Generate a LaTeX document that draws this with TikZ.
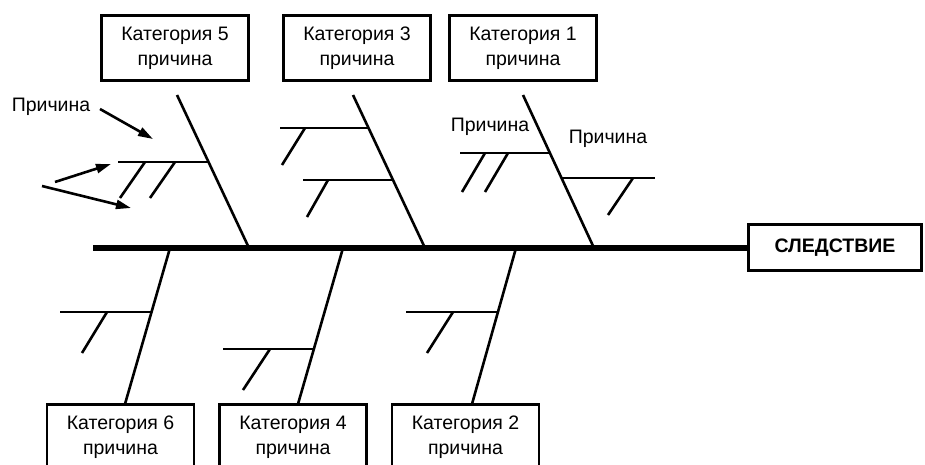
\documentclass[tikz,border=0pt]{standalone}
\usepackage{fontspec}
\setmainfont{Liberation Sans}
\usetikzlibrary{arrows.meta}
\begin{document}
\begin{tikzpicture}[x=1pt,y=-1pt,
  catbox/.style={draw, line width=2.8pt, minimum width=147pt, minimum height=65pt, inner sep=0pt, align=center, font=\fontsize{19.5}{25}\selectfont},
  effbox/.style={draw, line width=2.8pt, minimum width=173pt, minimum height=46pt, inner sep=0pt, font=\fontsize{19.5}{22}\selectfont\bfseries},
  bone/.style={line width=2.6pt},
  spine/.style={line width=5.5pt},
  lbl/.style={font=\fontsize{19.5}{22}\selectfont, inner sep=0pt},
  arr/.style={line width=2.6pt, -{Triangle[length=15pt,width=9pt]}}]
\clip (0,0) rectangle (925,464);
\fill[white] (0,0) rectangle (925,464);
% boxes
\node[catbox] (c5) at (175,48) {Категория 5\\причина};
\node[catbox] (c3) at (357,48) {Категория 3\\причина};
\node[catbox] (c1) at (523,48) {Категория 1\\причина};
\node[catbox] (c6) at (120.5,437) {Категория 6\\причина};
\node[catbox] (c4) at (293,437) {Категория 4\\причина};
\node[catbox] (c2) at (465.5,437) {Категория 2\\причина};
\node[effbox] (eff) at (835,247.5) {СЛЕДСТВИЕ};
% spine
\coordinate (tail) at (93,248);
\draw[spine] (tail) -- (tail -| eff.west);
% top bone 5
\coordinate (b5a) at (177,95); \coordinate (b5b) at (249,248);
\draw[bone] (b5a) -- (b5b);
\coordinate (s5a) at (118,162); \coordinate (s5b) at (208,162);
\draw[bone] (s5a) -- (s5b);
\coordinate (t5a) at (145,162); \coordinate (u5a) at (120,198);
\coordinate (t5b) at (175,162); \coordinate (u5b) at (150,198);
\draw[bone] (t5a) -- (u5a); \draw[bone] (t5b) -- (u5b);
% top bone 3
\coordinate (b3a) at (353,95); \coordinate (b3b) at (425,248);
\draw[bone] (b3a) -- (b3b);
\coordinate (s3a) at (280,128); \coordinate (s3b) at (368,128);
\draw[bone] (s3a) -- (s3b);
\coordinate (t3a) at (305,128); \coordinate (u3a) at (282,165);
\draw[bone] (t3a) -- (u3a);
\coordinate (s3c) at (303,180); \coordinate (s3d) at (393,180);
\draw[bone] (s3c) -- (s3d);
\coordinate (t3b) at (328,180); \coordinate (u3b) at (307,217);
\draw[bone] (t3b) -- (u3b);
% top bone 1
\coordinate (b1a) at (523,95); \coordinate (b1b) at (594,248);
\draw[bone] (b1a) -- (b1b);
\coordinate (s1a) at (460,153); \coordinate (s1b) at (550,153);
\draw[bone] (s1a) -- (s1b);
\coordinate (t1a) at (485,153); \coordinate (u1a) at (462,192);
\coordinate (t1b) at (508,153); \coordinate (u1b) at (485,192);
\draw[bone] (t1a) -- (u1a); \draw[bone] (t1b) -- (u1b);
\coordinate (s1c) at (562,178); \coordinate (s1d) at (655,178);
\draw[bone] (s1c) -- (s1d);
\coordinate (t1c) at (633,178); \coordinate (u1c) at (608,215);
\draw[bone] (t1c) -- (u1c);
% bottom bone 6
\coordinate (b6a) at (170,248); \coordinate (b6b) at (125,404);
\draw[bone] (b6a) -- (b6b);
\coordinate (s6a) at (60,312); \coordinate (s6b) at (152,312);
\draw[bone] (s6a) -- (s6b);
\coordinate (t6) at (107,312); \coordinate (u6) at (82,353);
\draw[bone] (t6) -- (u6);
% bottom bone 4
\coordinate (b4a) at (343,248); \coordinate (b4b) at (298,404);
\draw[bone] (b4a) -- (b4b);
\coordinate (s4a) at (223,349); \coordinate (s4b) at (314,349);
\draw[bone] (s4a) -- (s4b);
\coordinate (t4) at (270,349); \coordinate (u4) at (243,390);
\draw[bone] (t4) -- (u4);
% bottom bone 2
\coordinate (b2a) at (516,248); \coordinate (b2b) at (472,404);
\draw[bone] (b2a) -- (b2b);
\coordinate (s2a) at (406,312); \coordinate (s2b) at (498,312);
\draw[bone] (s2a) -- (s2b);
\coordinate (t2) at (453,312); \coordinate (u2) at (427,353);
\draw[bone] (t2) -- (u2);
% labels
\node[lbl] (p1) at (51,107) {Причина};
\node[lbl] (p2) at (490,127) {Причина};
\node[lbl] (p3) at (608,139) {Причина};
% arrows
\coordinate (a0) at (100,109);
\coordinate (a1) at (153,139);
\draw[arr] (a0) -- (a1);
\coordinate (v1) at (55,182);
\coordinate (v2) at (42,186);
\coordinate (a2) at (111,164);
\coordinate (a3) at (131,208);
\draw[arr] (v1) -- (a2);
\draw[arr] (v2) -- (a3);
\end{tikzpicture}
\end{document}
